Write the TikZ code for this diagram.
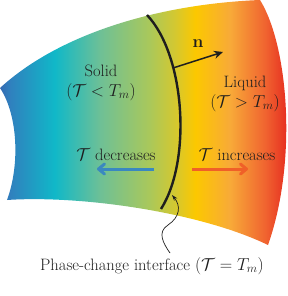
\documentclass[tikz,border=0pt]{standalone}
\usetikzlibrary{arrows.meta}
\definecolor{cA}{RGB}{52,106,178}
\definecolor{cB}{RGB}{48,128,190}
\definecolor{cC}{RGB}{16,184,200}
\definecolor{cD}{RGB}{110,192,150}
\definecolor{cE}{RGB}{170,200,90}
\definecolor{cF}{RGB}{212,200,48}
\definecolor{cG}{RGB}{252,200,0}
\definecolor{cH}{RGB}{248,170,56}
\definecolor{cI}{RGB}{240,100,48}
\definecolor{cJ}{RGB}{230,44,32}
\definecolor{coldarrow}{RGB}{58,136,192}
\definecolor{hotarrow}{RGB}{240,96,40}
\definecolor{ink}{RGB}{30,30,30}
\pgfdeclarehorizontalshading{phase}{100bp}{color(0bp)=(cA); color(25bp)=(cA); color(26.7bp)=(cB); color(34.5bp)=(cC); color(42.4bp)=(cD); color(51bp)=(cE); color(55.4bp)=(cF); color(58.9bp)=(cG); color(64.9bp)=(cH); color(71bp)=(cI); color(75bp)=(cJ); color(100bp)=(cJ)}
\begin{document}
\begin{tikzpicture}[x=1pt,y=-1pt,
  font=\fontsize{16.5}{19.5}\selectfont,
  lbl/.style={inner sep=0pt, align=center, text=ink},
  tarrow/.style={line width=3pt, -{Straight Barb[length=6pt,width=10pt,line cap=round,line join=round]}},
  interface/.style={line width=2.4pt, draw=ink},
  normalvec/.style={line width=1.5pt, draw=ink, -{Stealth[length=9pt,width=8pt]}},
  pointer/.style={line width=0.7pt, draw=ink, -{Stealth[length=6pt,width=4pt]}}]
\useasboundingbox (0,0) rectangle (288,296);
% shaded region
\begin{scope}
  \clip (0,88) .. controls (60,33) and (160,4) .. (260,0)
        .. controls (288,45) and (298,160) .. (268,245)
        .. controls (200,212) and (80,195) .. (7,200)
        .. controls (20,165) and (18,115) .. cycle;
  \shade[shading=phase] (0,0) rectangle (288,250);
\end{scope}
% interface
\coordinate (itop) at (147,15);
\coordinate (ibot) at (161,209);
\draw[interface] (itop) .. controls (185,55) and (192,160) .. (ibot);
% normal vector
\coordinate (nbase) at (173,68);
\coordinate (ntip) at (223,52);
\draw[normalvec] (nbase) -- (ntip);
\node[lbl] (nlabel) at (198,44) {$\mathbf{n}$};
% labels
\node[lbl] (solid) at (101,83) {Solid\\$(\mathcal{T} < T_m)$};
\node[lbl] (liquid) at (245,94) {Liquid\\$(\mathcal{T} > T_m)$};
\node[lbl] (dec) at (116,155) {$\mathcal{T}$ decreases};
\node[lbl] (inc) at (237,155) {$\mathcal{T}$ increases};
% temperature arrows
\coordinate (decS) at (154,169);
\coordinate (decE) at (97,169);
\coordinate (incS) at (192,169);
\coordinate (incE) at (248,169);
\draw[tarrow, draw=coldarrow] (decS) -- (decE);
\draw[tarrow, draw=hotarrow] (incS) -- (incE);
% interface caption and pointer
\node[lbl] (caption) at (152,266) {Phase-change interface $(\mathcal{T} = T_m)$};
\coordinate (pstart) at (170,253);
\coordinate (pend) at (172,195);
\draw[pointer] (pstart) .. controls (163,243) and (157,232) .. (168,225)
  .. controls (180,217) and (181,206) .. (pend);
\end{tikzpicture}
\end{document}
